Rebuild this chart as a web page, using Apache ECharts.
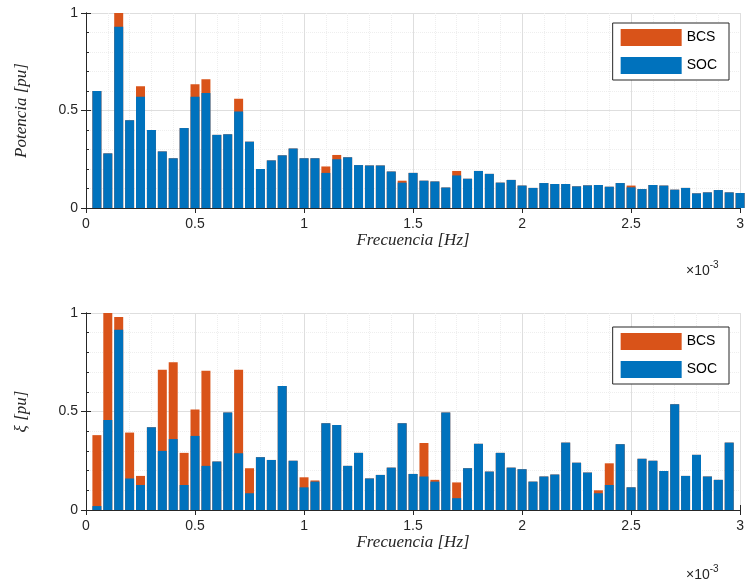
<!DOCTYPE html>
<html>
<head>
<meta charset="utf-8">
<script src="https://cdn.jsdelivr.net/npm/echarts/dist/echarts.min.js"></script>
<style>
  html, body { margin: 0; padding: 0; background: #fff; }
  #chart { width: 747px; height: 585px; }
</style>
</head>
<body>
<div id="chart"></div>
<script>
// frequency in units of 1e-3 Hz
const freq = [0.05, 0.1, 0.15, 0.2, 0.25, 0.3, 0.35, 0.4, 0.45, 0.5,
  0.55, 0.6, 0.65, 0.7, 0.75, 0.8, 0.85, 0.9, 0.95, 1.0,
  1.05, 1.1, 1.15, 1.2, 1.25, 1.3, 1.35, 1.4, 1.45, 1.5,
  1.55, 1.6, 1.65, 1.7, 1.75, 1.8, 1.85, 1.9, 1.95, 2.0,
  2.05, 2.1, 2.15, 2.2, 2.25, 2.3, 2.35, 2.4, 2.45, 2.5,
  2.55, 2.6, 2.65, 2.7, 2.75, 2.8, 2.85, 2.9, 2.95, 3.0]

const xTicks = [0, 0.5, 1, 1.5, 2, 2.5, 3]
const yTicks = [0, 0.5, 1]

// Potencia [pu]
const powerBCS = [0.60, 0.28, 1.00, 0.45, 0.625, 0.40, 0.29, 0.255, 0.41, 0.635,
  0.66, 0.375, 0.378, 0.56, 0.34, 0.20, 0.244, 0.27, 0.305, 0.255,
  0.255, 0.213, 0.272, 0.26, 0.22, 0.218, 0.218, 0.187, 0.14, 0.18,
  0.14, 0.136, 0.105, 0.19, 0.15, 0.19, 0.175, 0.13, 0.144, 0.115,
  0.103, 0.128, 0.123, 0.123, 0.111, 0.116, 0.118, 0.109, 0.128, 0.115,
  0.097, 0.118, 0.115, 0.094, 0.103, 0.075, 0.08, 0.092, 0.08, 0.077]
const powerSOC = [0.60, 0.28, 0.93, 0.45, 0.57, 0.40, 0.29, 0.255, 0.41, 0.57,
  0.59, 0.375, 0.378, 0.495, 0.34, 0.20, 0.244, 0.27, 0.305, 0.255,
  0.255, 0.18, 0.25, 0.26, 0.22, 0.218, 0.218, 0.187, 0.13, 0.18,
  0.14, 0.136, 0.105, 0.167, 0.15, 0.19, 0.175, 0.13, 0.144, 0.115,
  0.103, 0.128, 0.123, 0.123, 0.111, 0.116, 0.118, 0.109, 0.128, 0.106,
  0.097, 0.118, 0.115, 0.094, 0.103, 0.075, 0.08, 0.092, 0.08, 0.077]

// xi [pu]
const xiBCS = [0.38, 1.00, 0.98, 0.393, 0.173, 0.42, 0.712, 0.75, 0.29, 0.51,
  0.707, 0.246, 0.495, 0.712, 0.212, 0.268, 0.254, 0.63, 0.25, 0.166,
  0.15, 0.44, 0.432, 0.224, 0.29, 0.16, 0.178, 0.215, 0.44, 0.183,
  0.34, 0.153, 0.495, 0.14, 0.212, 0.336, 0.195, 0.29, 0.215, 0.207,
  0.144, 0.17, 0.18, 0.342, 0.24, 0.19, 0.10, 0.237, 0.334, 0.115,
  0.26, 0.25, 0.198, 0.537, 0.173, 0.28, 0.17, 0.153, 0.342, 0]
const xiSOC = [0.02, 0.457, 0.915, 0.16, 0.127, 0.42, 0.30, 0.36, 0.127, 0.376,
  0.224, 0.246, 0.495, 0.288, 0.085, 0.268, 0.254, 0.63, 0.25, 0.115,
  0.144, 0.44, 0.432, 0.224, 0.29, 0.16, 0.178, 0.215, 0.44, 0.183,
  0.17, 0.144, 0.495, 0.06, 0.212, 0.336, 0.195, 0.29, 0.215, 0.207,
  0.144, 0.17, 0.18, 0.342, 0.24, 0.19, 0.085, 0.127, 0.334, 0.115,
  0.26, 0.25, 0.198, 0.537, 0.173, 0.28, 0.17, 0.153, 0.342, 0]

const BLUE = '#0072BD'
const ORANGE = '#D95319'
const AXIS = '#262626'

const pairs = (ys) => freq.map((f, i) => [f, ys[i]])

function bottomX(gridIndex) {
  return {
    type: 'value', gridIndex: gridIndex, position: 'bottom',
    min: xTicks[0], max: xTicks[xTicks.length - 1], interval: 0.5,
    name: 'Frecuencia [Hz]', nameLocation: 'middle', nameGap: 21,
    nameTextStyle: { fontFamily: 'Liberation Serif', fontStyle: 'italic', fontSize: 17, color: AXIS },
    axisLine: { lineStyle: { color: AXIS, width: 1 } },
    axisTick: { inside: true, length: 5, lineStyle: { color: AXIS } },
    minorTick: { show: true, splitNumber: 5, length: 3, lineStyle: { color: AXIS } },
    axisLabel: { color: AXIS, fontSize: 14, fontFamily: 'Liberation Sans', margin: 9 },
    splitLine: { show: true, lineStyle: { color: '#dedede', width: 1 } },
    minorSplitLine: { show: true, lineStyle: { color: '#eeeeee', width: 1, type: 'dotted' } }
  }
}

function topX(gridIndex) {
  return {
    type: 'value', gridIndex: gridIndex, position: 'top',
    min: 0, max: 3, interval: 0.5,
    axisLine: { lineStyle: { color: AXIS, width: 1 } },
    axisTick: { inside: true, length: 5, lineStyle: { color: AXIS } },
    axisLabel: { show: false },
    splitLine: { show: false }
  }
}

function leftY(gridIndex, name) {
  return {
    type: 'value', gridIndex: gridIndex, position: 'left',
    min: yTicks[0], max: yTicks[yTicks.length - 1], interval: 0.5,
    name: name, nameLocation: 'middle', nameGap: 56,
    nameTextStyle: { fontFamily: 'Liberation Serif', fontStyle: 'italic', fontSize: 17, color: AXIS },
    axisLine: { show: true, lineStyle: { color: AXIS, width: 1 } },
    axisTick: { show: true, inside: true, length: 5, lineStyle: { color: AXIS } },
    minorTick: { show: true, splitNumber: 5, length: 3, lineStyle: { color: AXIS } },
    axisLabel: { color: AXIS, fontSize: 14, fontFamily: 'Liberation Sans', margin: 8 },
    splitLine: { show: true, lineStyle: { color: '#dedede', width: 1 } },
    minorSplitLine: { show: true, lineStyle: { color: '#eeeeee', width: 1, type: 'dotted' } }
  }
}

function rightY(gridIndex) {
  return {
    type: 'value', gridIndex: gridIndex, position: 'right',
    min: 0, max: 1, interval: 0.5,
    axisLine: { show: true, lineStyle: { color: AXIS, width: 1 } },
    axisTick: { show: true, inside: true, length: 5, lineStyle: { color: AXIS } },
    axisLabel: { show: false },
    splitLine: { show: false }
  }
}

function barSeries(name, color, axisIndex, ys) {
  return {
    name: name, type: 'bar',
    xAxisIndex: axisIndex, yAxisIndex: axisIndex,
    barWidth: 9, barGap: '-100%',
    clip: true,
    itemStyle: { color: color },
    data: pairs(ys)
  }
}

function legendAt(top) {
  return {
    data: ['BCS', 'SOC'],
    orient: 'vertical', right: 18, top: top,
    icon: 'rect', itemWidth: 61, itemHeight: 17, itemGap: 11,
    padding: [6, 12, 6, 8],
    backgroundColor: '#fff', borderColor: AXIS, borderWidth: 1,
    textStyle: { fontSize: 14, color: '#000', fontFamily: 'Liberation Sans', padding: [0, 0, 0, 0] }
  }
}

function expLabel(left, top) {
  return {
    type: 'text', left: left, top: top,
    style: {
      text: '{a|×10}{b|-3}',
      rich: {
        a: { fontSize: 14, fontFamily: 'Liberation Sans', fill: AXIS, padding: [8, 0, 0, 0] },
        b: { fontSize: 10, fontFamily: 'Liberation Sans', fill: AXIS, padding: [0, 0, 4, 0] }
      }
    }
  }
}

const myChart = echarts.init(document.getElementById('chart'), null, { renderer: 'canvas' })

const option = {
  animation: false,
  backgroundColor: '#fff',
  grid: [
    { left: 86, top: 13, width: 658, height: 195, show: true, borderWidth: 0, backgroundColor: '#fff' },
    { left: 86, top: 313, width: 658, height: 197, show: true, borderWidth: 0, backgroundColor: '#fff' }
  ],
  xAxis: [bottomX(0), bottomX(1), topX(0), topX(1)],
  yAxis: [leftY(0, 'Potencia [pu]'), leftY(1, 'ξ [pu]'), rightY(0), rightY(1)],
  legend: [legendAt(23), legendAt(327)],
  series: [
    barSeries('BCS', ORANGE, 0, powerBCS),
    barSeries('SOC', BLUE, 0, powerSOC),
    barSeries('BCS', ORANGE, 1, xiBCS),
    barSeries('SOC', BLUE, 1, xiSOC)
  ],
  graphic: [expLabel(686, 260), expLabel(686, 564)]
}

myChart.setOption(option)
</script>
</body>
</html>
